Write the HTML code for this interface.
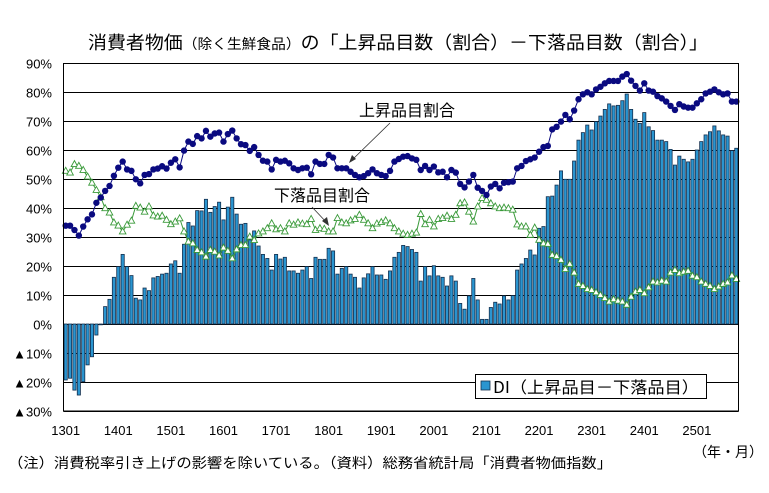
<!DOCTYPE html>
<html><head><meta charset="utf-8">
<style>
html,body{margin:0;padding:0;background:#fff;}
body{width:769px;height:488px;overflow:hidden;font-family:"Liberation Sans","Noto Sans CJK JP",sans-serif;}
svg text{font-family:"Liberation Sans","Noto Sans CJK JP",sans-serif;}
svg text.jp{font-family:"Noto Sans CJK JP","Liberation Sans",sans-serif;}
</style></head>
<body>
<svg id="chart" width="769" height="488" viewBox="0 0 769 488" xmlns="http://www.w3.org/2000/svg">
<text class="jp" x="88" y="49" font-size="18" fill="#000" textLength="620" lengthAdjust="spacingAndGlyphs">消費者物価<tspan font-size="14">（除く生鮮食品）</tspan>の「上昇品目数（割合）－下落品目数（割合）」</text>
<g id="grid"></g>
<g id="bars"></g>
<g id="lines"></g>
<g id="axes"></g>
<rect x="63.5" y="63.5" width="675" height="347.5" fill="none" stroke="#000" stroke-width="1"/>
<rect x="354" y="98" width="108" height="22" fill="#fff"/>
<text class="jp" x="407" y="116" text-anchor="middle" font-size="16" fill="#000">上昇品目割合</text>
<line x1="390" y1="123" x2="351" y2="161" stroke="#333" stroke-width="0.8"/>
<polygon points="349,163 352,155 356,159" fill="#333"/>
<rect x="268" y="184" width="108" height="22" fill="#fff"/>
<text class="jp" x="322" y="201" text-anchor="middle" font-size="16" fill="#000">下落品目割合</text>
<line x1="312" y1="207" x2="328" y2="224" stroke="#333" stroke-width="0.8"/>
<polygon points="329,226 322,221 327,217" fill="#333"/>
<g>
<rect x="475.5" y="374.5" width="231" height="24" fill="#fff" stroke="#000" stroke-width="1"/>
<rect x="481" y="381" width="9" height="9" fill="#2a95d0" stroke="#15304f" stroke-width="0.8"/>
<text class="jp" x="493" y="393" font-size="16" fill="#000" textLength="206" lengthAdjust="spacingAndGlyphs">DI（上昇品目－下落品目）</text>
</g>
<text class="jp" x="693" y="457" font-size="14" fill="#000">（年・月）</text>
<text class="jp" x="8" y="468" font-size="14" fill="#000" textLength="604" lengthAdjust="spacingAndGlyphs">（注）消費税率引き上げの影響を除いている。（資料）総務省統計局「消費者物価指数」</text>
</svg>
<script>
const upRatio = [33.9,33.9,32.4,30.5,33.6,36.1,37.8,41.8,43.6,45.9,47.6,51.1,53.9,56.0,53.3,52.8,49.9,48.5,51.4,51.7,53.3,53.6,54.4,53.6,55.6,56.8,54.0,59.8,62.9,62.1,64.8,64.0,66.6,64.6,65.7,66.0,62.9,65.5,66.7,64.0,62.0,61.7,59.7,61.0,58.3,56.3,56.0,53.3,56.6,56.0,56.3,55.4,
53.7,53.1,53.7,53.9,51.6,56.0,55.2,55.2,58.3,57.4,53.7,53.7,53.7,52.5,51.4,50.6,51.0,52.0,53.3,52.0,51.4,51.0,52.8,56.0,56.9,57.7,57.9,57.1,56.6,53.1,54.5,53.1,54.3,52.3,52.5,50.6,53.1,52.2,48.3,47.1,49.1,51.4,47.0,45.9,44.5,47.4,48.3,46.8,48.7,48.9,
49.1,53.7,54.5,56.2,56.8,57.4,59.4,61.0,61.4,67.1,68.0,69.8,72.1,70.6,73.6,77.5,79.2,79.9,79.2,80.9,81.8,83.0,83.8,83.8,83.8,85.3,86.2,83.9,82.1,80.5,83.0,80.5,80.1,78.6,77.8,76.7,75.2,73.8,75.8,75.0,74.6,74.6,76.1,77.5,79.5,80.1,80.9,79.9,79.2,79.5,76.7,76.7];
const downRatio = [52.8,52.2,55.1,54.5,53.1,50.8,48.7,46.2,43.7,39.9,38.4,35.0,33.9,31.9,34.2,35.6,40.7,40.1,38.7,40.5,37.4,37.0,37.3,35.9,34.4,35.3,36.4,31.9,28.4,27.8,25.5,24.7,23.2,25.5,24.9,23.6,26.3,25.2,22.6,25.7,27.2,27.2,30.1,28.9,31.2,31.9,33.0,34.7,32.6,33.0,31.9,34.7,
34.2,35.0,34.6,34.4,36.2,32.4,33.0,32.8,31.9,31.9,36.5,35.0,34.7,35.7,36.2,37.6,35.9,34.7,33.0,34.6,35.1,35.7,34.7,33.0,31.9,31.1,30.7,31.1,31.5,37.9,34.4,35.9,33.6,36.2,36.5,37.3,36.2,37.6,41.6,41.9,38.7,35.3,40.5,43.4,42.8,41.6,40.5,39.9,40.1,39.9,
39.4,34.3,33.6,33.6,30.7,33.2,29.0,27.8,27.6,23.8,23.4,22.1,18.9,20.7,17.7,13.8,13.1,12.0,11.7,10.9,10.0,8.9,7.7,8.5,8.0,7.7,6.6,9.4,11.1,11.7,10.6,12.6,14.6,14.3,14.9,14.6,17.7,18.6,17.5,18.0,18.3,16.6,16.1,14.6,13.8,13.1,12.0,12.9,13.8,14.3,16.7,15.5];
const diValues = [-19.3,-18.7,-22.8,-24.5,-19.9,-14.1,-11.3,-3.8,0,6.0,8.5,16.1,19.8,24.0,19.8,16.7,8.9,8.3,12.4,11.5,15.9,16.4,17.2,17.5,20.7,21.8,17.5,27.5,35.0,33.8,39.1,39.0,43.0,38.5,40.5,42.0,35.9,40.3,43.7,37.9,34.4,34.7,29.0,32.1,26.9,24.0,22.6,18.6,24.0,22.4,23.0,18.3,
18.3,17.5,18.6,19.8,15.7,23.0,22.3,22.3,26.1,25.2,17.2,19.2,19.8,17.2,16.1,12.4,15.9,17.3,19.8,16.9,16.9,15.4,18.3,23.0,24.7,27.1,26.7,25.7,24.7,14.8,19.8,16.6,20.1,16.6,16.1,13.1,16.6,14.8,7.1,5.1,9.7,15.7,8.3,1.6,1.6,5.7,7.5,6.9,9.7,8.3,
9.8,18.6,20.7,22.6,25.5,23.8,33.0,33.6,43.9,44.1,47.9,52.8,49.9,49.9,56.2,63.4,66.0,68.6,66.9,69.8,71.7,74.0,75.9,75.2,75.4,77.0,79.3,74.0,70.6,69.2,72.9,68.0,66.7,63.4,63.4,62.9,60.2,54.8,57.9,56.8,55.9,56.8,60.0,62.9,65.2,66.3,68.3,66.6,65.2,64.8,59.8,60.6];
const yTicks = [90,80,70,60,50,40,30,20,10,0,-10,-20,-30];
const yTickLabels = ["90%","80%","70%","60%","50%","40%","30%","20%","10%","0%","▲10%","▲20%","▲30%"];
const xLabels = ["1301","1401","1501","1601","1701","1801","1901","2001","2101","2201","2301","2401","2501"];

const NS = "http://www.w3.org/2000/svg";
const L = 63.5, R = 738.5, N = diValues.length;
const step = (R - L) / N;
function yScale(v){ return 324 - v * 2.9; }
function xBand(i){ return L + i * step; }
function xCenter(i){ return L + (i + 0.5) * step; }
function mk(tag, attrs, parent){ const e = document.createElementNS(NS, tag); for (const k in attrs) e.setAttribute(k, attrs[k]); parent.appendChild(e); return e; }

const grid = document.getElementById('grid');
const axes = document.getElementById('axes');
yTicks.forEach((t, i) => {
  const y = Math.round(yScale(t)) + 0.5;
  const gl = mk('line', {x1: L, x2: R, y1: y, y2: y, stroke: '#000', 'stroke-width': 1}, grid);
  
  
  const tx = mk('text', {x: 52, y: y + 5, 'text-anchor': 'end', 'font-size': 13, fill: '#000'}, axes);
  tx.textContent = yTickLabels[i];
  
  
});
xLabels.forEach((lab, k) => {
  const tx = mk('text', {x: xCenter(k * 12), y: 435, 'text-anchor': 'middle', 'font-size': 13, fill: '#000'}, axes);
  tx.textContent = lab;
  
  
});

const bars = document.getElementById('bars');
diValues.forEach((v, i) => {
  const y0 = yScale(0), y1 = yScale(v);
  const b = mk('rect', {x: xBand(i) + 0.6, y: Math.min(y0, y1), width: step - 1.2, height: Math.max(0.8, Math.abs(y1 - y0)), fill: '#2a95d0', stroke: '#15304f', 'stroke-width': 0.8}, bars);
  
  
});

const lines = document.getElementById('lines');
function path(vals){ return vals.map((v, i) => (i ? 'L' : 'M') + xCenter(i).toFixed(1) + ',' + yScale(v).toFixed(1)).join(' '); }
const dl = mk('path', {d: path(downRatio), fill: 'none', stroke: '#3a9a3a', 'stroke-width': 1}, lines);


downRatio.forEach((v, i) => {
  const cx = xCenter(i), cy = yScale(v);
  const t = mk('polygon', {points: `${cx},${cy-3.6} ${cx-3.3},${cy+2.4} ${cx+3.3},${cy+2.4}`, fill: '#fff', stroke: '#3a9a3a', 'stroke-width': 0.9}, lines);
  
  
});
const ul = mk('path', {d: path(upRatio), fill: 'none', stroke: '#0a0a80', 'stroke-width': 1}, lines);


upRatio.forEach((v, i) => {
  const c = mk('circle', {cx: xCenter(i), cy: yScale(v), r: 3.2, fill: '#0a0a80'}, lines);
  
  
});
</script>
</body></html>
